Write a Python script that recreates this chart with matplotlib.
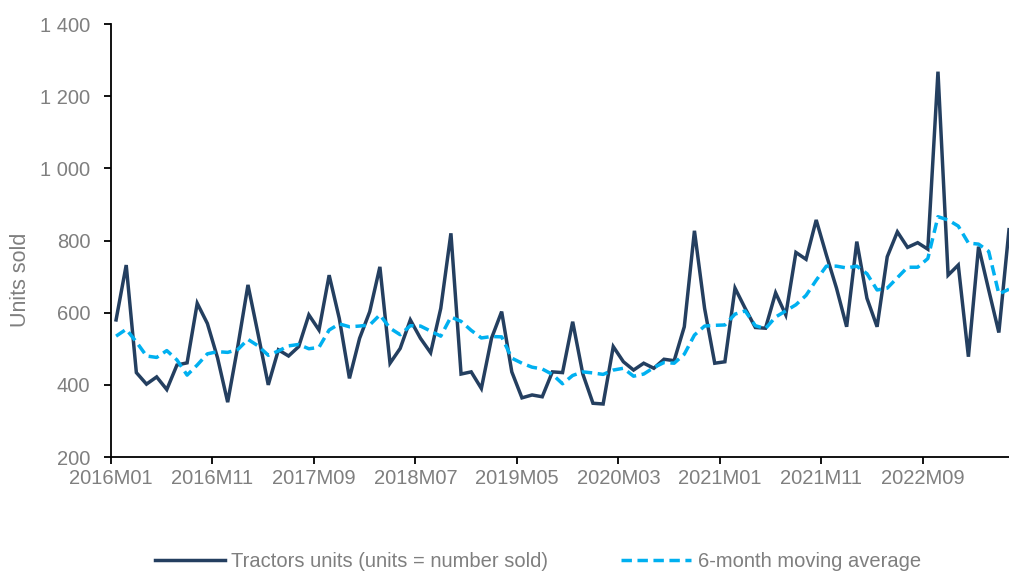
import numpy as np
import matplotlib.pyplot as plt
from matplotlib.ticker import FuncFormatter

# monthly tractor sales, 2016M01 .. 2023M05
units = [580, 732, 434, 402, 422, 387, 455, 461, 626, 570,
         475, 352, 507, 677, 540, 400, 497, 480, 506, 594,
         552, 704, 584, 418, 529, 603, 727, 460, 501, 580,
         529, 489, 612, 820, 430, 436, 390, 529, 603, 436,
         364, 372, 367, 436, 434, 575, 430, 349, 347, 506,
         464, 441, 460, 446, 471, 467, 561, 827, 612, 460,
         464, 668, 612, 559, 557, 655, 594, 767, 748, 857,
         760, 668, 561, 797, 640, 561, 755, 824, 781, 794,
         776, 1268, 704, 732, 478, 783, 663, 545, 830]
moving_avg = [535, 554, 519, 480, 476, 495, 469, 427, 455, 486,
              492, 490, 498, 526, 508, 482, 494, 508, 512, 500,
              504, 552, 569, 561, 563, 566, 594, 557, 539, 564,
              563, 549, 535, 588, 576, 551, 530, 534, 533, 474,
              460, 449, 444, 429, 403, 426, 436, 433, 429, 441,
              446, 424, 430, 448, 462, 460, 485, 538, 563, 565,
              566, 596, 605, 564, 556, 588, 605, 622, 648, 690,
              729, 729, 724, 729, 708, 663, 668, 697, 726, 726,
              750, 866, 857, 840, 793, 790, 770, 652, 665]
tick_labels = ['2016M01', '2016M11', '2017M09', '2018M07', '2019M05',
               '2020M03', '2021M01', '2021M11', '2022M09']

grey = '#7f7f7f'
plt.rcParams['font.family'] = ['Liberation Sans', 'DejaVu Sans']
fs = 14.5

fig = plt.figure(figsize=(10.09, 5.72), dpi=100)
ax = fig.add_axes([0.110, 0.201, 0.890, 0.757])

x = np.arange(len(units))
ax.plot(x, units, color='#243f60', lw=2.5, solid_joinstyle='miter',
        label='Tractors units (units = number sold)')
ax.plot(x, moving_avg, color='#00b0f0', lw=2.5, ls=(0, (3.0, 1.6)),
        label='6-month moving average')

ax.set_xlim(-0.5, len(units) - 1)
ax.set_ylim(200, 1400)
ax.set_xticks(np.arange(len(tick_labels)) * 10 - 0.5)
ax.set_xticklabels(tick_labels)
ax.set_yticks(np.arange(200, 1401, 200))
ax.yaxis.set_major_formatter(
    FuncFormatter(lambda v, p: '{:,.0f}'.format(v).replace(',', ' ')))

for s in ('top', 'right'):
    ax.spines[s].set_visible(False)
for s in ('left', 'bottom'):
    ax.spines[s].set_linewidth(1.3)
ax.tick_params(axis='both', colors='black', width=1.3, length=5,
               labelsize=fs, labelcolor=grey)
ax.tick_params(axis='y', pad=10)
ax.tick_params(axis='x', pad=3.5)
ax.set_ylabel('Units sold', fontsize=15.5, color=grey)
ax.yaxis.set_label_coords(-0.089, 0.41)

fig.legend(loc='lower center', bbox_to_anchor=(0.533, -0.03), ncol=2,
           frameon=False, fontsize=fs, labelcolor=grey, handlelength=3.5,
           handletextpad=0.3, columnspacing=3.6)

plt.savefig('out.png', dpi=100)
